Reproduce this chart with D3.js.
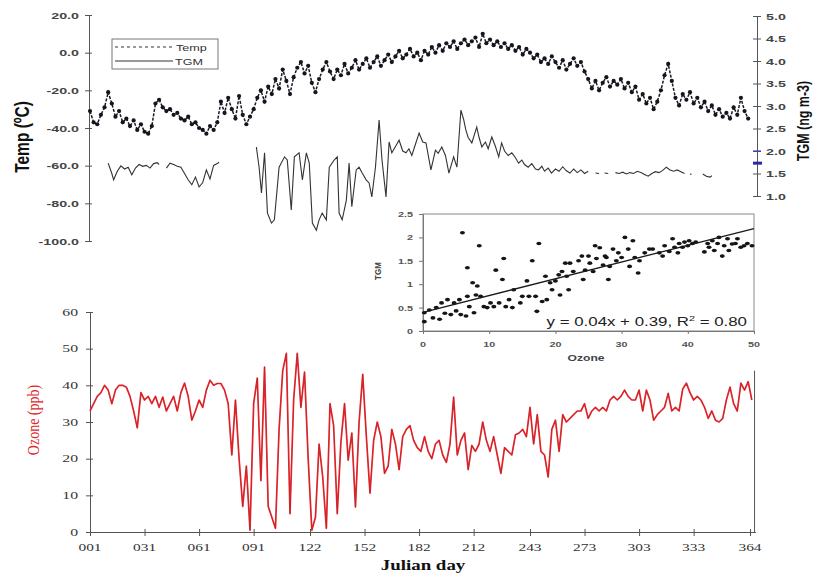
<!DOCTYPE html>
<html><head><meta charset="utf-8">
<script src="https://cdn.jsdelivr.net/npm/d3@7"></script>
<style>body{margin:0;background:#fff}svg{display:block}</style>
</head><body><svg id="c" width="815" height="574"></svg>
<script>
// ---------------- DATA ----------------
const tempDays = d3.range(1, 364, 2);
const tempValues = [
-31,-37,-38,-33,-29,
-21,-27,-34,-31,-37,
-35,-39,-36,-41,-38,-42,-43,-39,
-27,-25,-29,-31,-30,-33,-32,-35,-36,-34,
-38,-37,-40,-41,-43,-39,-41,-37,
-26,-32,-24,-30,-35,-23,-33,-38,-34,
-30,-24,-20,-26,-18,-22,-14,-19,-9,-15,
-22,-13,-8,-5,-11,-7,-16,-21,-14,-9,
-5,-10,-14,-9,-12,-6,-11,-8,-4,-9,
-6,-3,-8,-5,-2,-7,-4,-1,-5,-2,
1,-3,-1,2,-2,0,-4,1,-1,3,
0,4,1,5,3,6,2,5,7,4,
6,8,3,10,5,7,4,6,3,5,
2,4,1,3,-1,2,0,-3,-1,-5,
-3,-6,-2,-5,-8,-4,-9,-6,-3,-7,
-5,-10,-14,-19,-15,-20,-16,-13,-18,-15,
-17,-14,-19,-16,-21,-18,-25,-22,-27,-24,
-30,-26,-20,-12,-6,-15,-24,-28,-22,-25,
-21,-27,-24,-29,-26,-31,-28,-33,-30,-34,
-32,-35,-29,-33,-24,-31,-35];

// TGM: [julian day, ng m-3], null = no data
const tgmPoints = [
[11,1.73],[13,1.5],[14,1.36],[16,1.55],[18,1.67],[20,1.6],[22,1.64],[24,1.47],[26,1.62],[28,1.7],[30,1.66],[32,1.68],[34,1.62],[36,1.72],[38,1.74],[39,1.7],[41,null],
[43,1.62],[45,1.73],[47,1.7],[49,1.66],[51,1.64],[53,1.5],[55,1.36],[57,1.25],[59,1.42],[61,1.2],[63,1.3],[65,1.58],[67,1.38],[69,1.68],[71,1.72],[72,1.75],[80,null],
[92.5,2.09],[94,1.64],[95.3,1.07],[97,1.96],[98.6,0.62],[100.8,0.4],[102.4,0.47],[105,1.64],[108,1.87],[109.5,1.8],[111.7,0.69],[113.4,1.87],[116,1.96],[117.8,1.36],[120,1.96],[121.6,1.73],[123.3,0.4],[125.5,0.24],[127,0.47],[128.7,0.62],[131,0.47],[132.6,1.64],[135.3,1.8],[137,1.87],[138,0.62],[139.7,0.47],[142,0.91],[143.5,1.73],[145,0.76],[147.4,1.58],[149,1.64],[150.7,1.51],[152.9,1.36],[154.5,1.29],[156,0.98],[158,1.64],[160,2.69],[161.6,1.8],[163.8,0.98],[165.5,2.2],[167,1.96],[169,2.1],[171,2.24],[173,2.0],[174.8,1.96],[176.4,2.05],[178,1.9],[180,2.15],[182,2.4],[184,2.2],[185.8,2.18],[188.5,1.58],[191,2.02],[192.5,1.95],[194.5,2.09],[196.5,1.9],[198.4,1.51],[201,1.87],[202.8,1.64],[205,2.91],[206.5,2.7],[207.7,2.47],[209,2.3],[211,2.18],[213.7,2.53],[215,2.3],[216.5,2.09],[218.5,2.2],[220,2.05],[222,2.31],[224,2.1],[225.8,1.87],[227.4,2.18],[229,2.0],[231,1.9],[233,1.96],[235,1.85],[236.7,1.73],[238.5,1.8],[240,1.7],[242,1.64],[244,1.72],[246,1.6],[247.7,1.58],[249.5,1.66],[251,1.55],[253,1.62],[254.8,1.51],[257,1.6],[259,1.55],[261,1.65],[263,1.56],[265,1.51],[267,1.6],[269,1.52],[271,1.58],[273,1.5],[275,1.55],[277,null],
[279,1.51],[281,1.5],[282,null],[284,1.51],[286,1.5],[287,null],
[290,1.52],[292,1.5],[294,1.53],[296,1.49],[298,1.52],[300,1.5],[302,1.55],[304,1.52],[306,1.48],[308,1.44],[310,1.5],[312,1.54],[314,1.52],[316,1.57],[318,1.64],[320,1.58],[322,1.55],[324,1.58],[326,1.54],[328,1.5],[329,null],
[331,1.49],[331.8,1.48],[333,null],
[338,1.49],[340,1.44],[342,1.42],[343,1.45]];

const ozoneDays = d3.range(1, 366, 2);
const ozoneValues = [
33,35,37,38,40,38.7,35,38.7,40,40,
39.5,37,33,28.4,38,36,37,35,37,34,
36.8,33,35,37,33,38,40.6,37,30.5,33,
36,34,38.7,41.4,40,40.5,40.5,38.7,35,21,
36,20,7,18,0.5,35,42,14,45,7,
4,1,28,44,48.7,5,36,48.7,34,43.6,
20,0.5,4,24,15,1,35,29,5,24.5,
35,19.6,27,6.8,30,43,26,10.6,25,30,
26,16,18,28,24,17,26,28,29,25,
23,22,26,22,20,24,25,21,19,24,
36.8,21,25,27,17,23.6,22,24,30,25,
22,26,21,16,23,22,21,26.5,27,28,
26,34,24,32,22,21,15,28,30.5,22,
32,30,31,32,33,33,35,31,33,34,
33,34,33,36,37,36,37,38.7,37,36,
36,38.7,33,38.7,36,30.5,32,33,34,37.8,
33,34,33,39,40.6,38,36,37,36,34,
31,33,30.5,30,31,36,39.5,35,33,40.6,
38.7,41,36];

const scatterOzone = [0.2,0.2,0.95,1.5,2,2.5,2.8,3.3,3.7,4.2,4.7,5,5.5,5.7,5.96,6.5,6.7,6.7,7,7.5,7.7,8,8.2,8.5,8.7,9.2,9.7,10.2,10.7,11,11.5,12,12.2,12.5,13,13.5,13.7,14.7,15,15.7,16,16.5,17,17.2,17.5,18,18.5,18.7,19.2,19.5,20,20.5,20.7,21,21.5,21.7,22,22.2,22.7,23.5,24,24.2,24.5,25,25.2,25.7,26,26.2,26.7,27.2,27.5,27.7,28,28.2,28.7,29.2,29.5,30,30.5,31,31.2,31.7,32,32.5,32.7,33.5,34.2,34.7,35.7,36.2,36.5,37.2,37.7,38,38.5,38.7,39.2,39.5,40,40.2,40.7,41.2,42.5,43,43.2,43.7,44,44.5,44.7,45.2,45.5,46,46.2,46.7,47.2,47.5,48,48.5,49,49.7];
const scatterTGM = [0.2,0.39,0.45,0.28,0.5,0.25,0.6,0.38,0.67,0.35,0.6,0.43,0.67,0.35,2.1,0.32,0.74,1.35,0.52,1.03,0.39,0.77,0.96,1.82,0.74,0.52,0.5,0.6,0.52,1.3,0.6,1.1,1.55,0.52,0.67,0.5,0.88,0.6,0.74,1.07,0.74,1.5,0.74,0.42,1.87,0.63,1.17,0.67,1.03,0.88,1.07,1.2,0.77,1.27,1.45,1.17,0.88,1.45,1.27,1.5,1.6,1.1,1.3,1.6,1.45,1.27,1.82,1.55,1.78,1.41,1.6,1.57,1.1,1.38,1.75,1.5,1.67,1.57,2.0,1.75,1.38,1.93,1.57,1.24,1.5,1.67,1.75,1.75,1.67,1.6,1.82,1.7,1.97,1.79,1.67,1.87,1.79,1.9,1.82,1.93,1.87,1.9,1.69,1.87,1.79,1.93,1.72,1.87,2.0,1.6,1.82,1.97,1.72,1.86,1.87,1.97,1.79,1.82,1.87,1.82];
const fitOzone = [0, 50];
const fitTGM = [0.40, 2.19];
const equationText = "y = 0.04x + 0.39,  R";
const equationTail = " = 0.80";

const dayTicks = [1,31,61,91,122,152,182,212,243,273,303,333,364];
const dayTickLabels = ["001","031","061","091","122","152","182","212","243","273","303","333","364"];
const tempTicks = [20,0,-20,-40,-60,-80,-100];
const tgmTicks = [5.0,4.5,4.0,3.5,3.0,2.5,2.0,1.5,1.0];
const ozoneTicks = [0,10,20,30,40,50,60];
const insetXTicks = [0,10,20,30,40,50];
const insetYTicks = [0,0.5,1,1.5,2,2.5];
const markerTGM = 1.73; // blue marker on right axis

// ---------------- SCALES ----------------
const svg = d3.select("#c");
const x = d3.scaleLinear().domain([1, 364]).range([90, 750]);
const yTemp = d3.scaleLinear().domain([-100, 20]).range([241, 15]);
const yTGM = d3.scaleLinear().domain([0, 5]).range([241, 16]);
const yOz = d3.scaleLinear().domain([0, 60]).range([532, 312]);
const ix = d3.scaleLinear().domain([0, 50]).range([423, 754]);
const iy = d3.scaleLinear().domain([0, 2.5]).range([331, 214]);

const SANS = "'Liberation Sans', Arial, sans-serif";
const SERIF = "'Liberation Serif', 'Times New Roman', serif";

function txt(parent, px, py, s, o) {
  return parent.append("text")
    .attr("transform", `translate(${px},${py}) scale(${o.sx || 1},1)` + (o.rot ? ` rotate(${o.rot})` : ""))
    .attr("text-anchor", o.anchor || "start")
    .attr("font-family", o.family || SANS)
    .attr("font-size", o.size || 10)
    .attr("font-weight", o.weight || "normal")
    .attr("fill", o.fill || "#222")
    .text(s);
}
function styleAxis(g, col) {
  g.selectAll("path,line").attr("stroke", col || "#555").attr("stroke-width", 1);
  g.selectAll("text").remove();
}

// ---------------- TOP PANEL ----------------
const topG = svg.append("g");
const lAx = topG.append("g").attr("transform", `translate(${x(1) - 1},0)`)
  .call(d3.axisLeft(yTemp).tickValues(tempTicks).tickSizeInner(4).tickSizeOuter(0));
styleAxis(lAx);
const lAx2 = topG.append("g").attr("transform", `translate(${x(1) - 1},0)`)
  .call(d3.axisRight(yTemp).tickValues(tempTicks).tickSizeInner(3).tickSizeOuter(0));
styleAxis(lAx2); lAx2.select("path").remove();
tempTicks.forEach(v => txt(topG, 79, yTemp(v) + 3.5, v.toFixed(1), {anchor: "end", size: 9.5, sx: 1.5, weight: "bold", fill: "#444"}));

const yTGMax = yTGM.copy().domain([1, 5]).range([yTGM(1), yTGM(5)]);
const rX = 757;
const rAx = topG.append("g").attr("transform", `translate(${rX},0)`)
  .call(d3.axisRight(yTGMax).tickValues(tgmTicks).tickSizeInner(4).tickSizeOuter(0));
styleAxis(rAx);
const rAx2 = topG.append("g").attr("transform", `translate(${rX},0)`)
  .call(d3.axisLeft(yTGMax).tickValues(tgmTicks).tickSizeInner(4).tickSizeOuter(0));
styleAxis(rAx2); rAx2.select("path").remove();
tgmTicks.forEach(v => txt(topG, 766, yTGM(v) + 3.5, v.toFixed(1), {size: 9.5, sx: 1.5, weight: "bold", fill: "#444"}));
topG.append("line").attr("x1", rX - 4).attr("x2", rX + 4).attr("y1", yTGM(2)).attr("y2", yTGM(2)).attr("stroke", "#3344cc").attr("stroke-width", 1.2);
topG.append("line").attr("x1", rX - 4).attr("x2", rX + 5).attr("y1", yTGM(markerTGM)).attr("y2", yTGM(markerTGM)).attr("stroke", "#2a2aa8").attr("stroke-width", 3);

txt(topG, 29, 137, "Temp (ºC)", {anchor: "middle", size: 15.5, weight: "bold", sx: 1.3, rot: -90, fill: "#111"});
txt(topG, 809, 121, "TGM (ng m-3)", {anchor: "middle", size: 12.5, weight: "bold", sx: 1.25, rot: -90, fill: "#111"});

const tgmLine = d3.line().defined(d => d[1] != null).x(d => x(d[0])).y(d => yTGM(d[1]));
topG.append("path").datum(tgmPoints).attr("d", tgmLine)
  .attr("fill", "none").attr("stroke", "#333").attr("stroke-width", 1.1);

const tempData = tempDays.map((d, i) => [d, tempValues[i]]).filter(d => d[1] != null);
topG.append("path").datum(tempData)
  .attr("d", d3.line().x(d => x(d[0])).y(d => yTemp(d[1])))
  .attr("fill", "none").attr("stroke", "#1a1a22").attr("stroke-width", 1.5).attr("stroke-dasharray", "3,1.5");
topG.selectAll("circle.t").data(tempData).join("circle").attr("class", "t")
  .attr("cx", d => x(d[0])).attr("cy", d => yTemp(d[1])).attr("r", 2.1).attr("fill", "#15151f");

const lg = topG.append("g");
lg.append("rect").attr("x", 112).attr("y", 39).attr("width", 106).attr("height", 30)
  .attr("fill", "#fff").attr("stroke", "#777").attr("stroke-width", 1);
lg.append("line").attr("x1", 115).attr("x2", 175).attr("y1", 47).attr("y2", 47)
  .attr("stroke", "#333").attr("stroke-width", 1).attr("stroke-dasharray", "3,3");
lg.append("line").attr("x1", 115).attr("x2", 173).attr("y1", 61).attr("y2", 61)
  .attr("stroke", "#333").attr("stroke-width", 1);
txt(lg, 176, 50.5, "Temp", {size: 9, sx: 1.4, fill: "#333"});
txt(lg, 175, 64.5, "TGM", {size: 9, sx: 1.4, fill: "#333"});

// ---------------- BOTTOM PANEL ----------------
const bot = svg.append("g");
const xAxScale = x.copy().domain([1, 367]).range([x(1), x(367)]);
const bx = bot.append("g").attr("transform", `translate(0,${yOz(0)})`)
  .call(d3.axisBottom(xAxScale).tickValues(dayTicks).tickSizeInner(4).tickSizeOuter(0));
styleAxis(bx);
const bx2 = bot.append("g").attr("transform", `translate(0,${yOz(0)})`)
  .call(d3.axisTop(xAxScale).tickValues(dayTicks).tickSizeInner(3).tickSizeOuter(0));
styleAxis(bx2); bx2.select("path").remove();
dayTicks.forEach((d, i) => txt(bot, x(d), 551, dayTickLabels[i], {anchor: "middle", family: SERIF, size: 11, sx: 1.4, fill: "#333"}));

const by = bot.append("g").attr("transform", `translate(${x(1)},0)`)
  .call(d3.axisLeft(yOz).tickValues(ozoneTicks).tickSizeInner(4).tickSizeOuter(0));
styleAxis(by);
const by2 = bot.append("g").attr("transform", `translate(${x(1)},0)`)
  .call(d3.axisRight(yOz).tickValues(ozoneTicks).tickSizeInner(3).tickSizeOuter(0));
styleAxis(by2); by2.select("path").remove();
ozoneTicks.forEach(v => txt(bot, 78, yOz(v) + 3.5, String(v), {anchor: "end", family: SERIF, size: 10.5, sx: 1.5, fill: "#333"}));

txt(bot, 39, 420, "Ozone (ppb)", {anchor: "middle", family: SERIF, size: 14, sx: 1.25, rot: -90, fill: "#e0262c"});
txt(bot, 423, 570, "Julian day", {anchor: "middle", family: SERIF, size: 14, weight: "bold", sx: 1.35, fill: "#111"});

const ozData = ozoneDays.map((d, i) => [d, ozoneValues[i]]).filter(d => d[1] != null);
bot.append("path").datum(ozData)
  .attr("d", d3.line().x(d => x(d[0])).y(d => yOz(d[1])))
  .attr("fill", "none").attr("stroke", "#ec2b30").attr("stroke-width", 1.7).attr("stroke-linejoin", "round");
bot.append("path").datum(ozData)
  .attr("d", d3.line().x(d => x(d[0])).y(d => yOz(d[1])))
  .attr("fill", "none").attr("stroke", "#8e1b1f").attr("stroke-width", 0.45).attr("opacity", 0.7);
bot.append("line").attr("x1", x(366.5)).attr("x2", x(366.5)).attr("y1", yOz(44)).attr("y2", yOz(0))
  .attr("stroke", "#555").attr("stroke-width", 1);

// ---------------- INSET ----------------
const ins = svg.append("g");
ins.append("rect").attr("x", ix(0)).attr("y", iy(2.5)).attr("width", ix(50) - ix(0)).attr("height", iy(0) - iy(2.5))
  .attr("fill", "#fff").attr("stroke", "#888").attr("stroke-width", 1);
const iax = ins.append("g").attr("transform", `translate(0,${iy(0)})`)
  .call(d3.axisBottom(ix).tickValues(insetXTicks).tickSizeInner(3).tickSizeOuter(0));
styleAxis(iax, "#777");
const iay = ins.append("g").attr("transform", `translate(${ix(0)},0)`)
  .call(d3.axisLeft(iy).tickValues(insetYTicks).tickSizeInner(4).tickSizeOuter(0));
styleAxis(iay, "#777");
insetYTicks.forEach(v => txt(ins, 413, iy(v) + 3, String(v), {anchor: "end", size: 8, weight: "bold", sx: 1.35, fill: "#555"}));
insetXTicks.forEach(v => txt(ins, ix(v), 347, String(v), {anchor: "middle", size: 8, weight: "bold", sx: 1.35, fill: "#555"}));
txt(ins, 586, 361, "Ozone", {anchor: "middle", size: 9, weight: "bold", sx: 1.35, fill: "#444"});
txt(ins, 381, 271, "TGM", {anchor: "middle", size: 8, weight: "bold", sx: 1.2, rot: -90, fill: "#444"});

ins.selectAll("ellipse").data(scatterOzone.map((o, i) => [o, scatterTGM[i]])).join("ellipse")
  .attr("cx", d => ix(d[0])).attr("cy", d => iy(d[1])).attr("rx", 2.5).attr("ry", 1.8).attr("fill", "#151515");
ins.append("line").attr("x1", ix(fitOzone[0])).attr("y1", iy(fitTGM[0]))
  .attr("x2", ix(fitOzone[1])).attr("y2", iy(fitTGM[1]))
  .attr("stroke", "#1a1a1a").attr("stroke-width", 1.3);
const eq = txt(ins, 747, 326, equationText, {anchor: "end", size: 12.5, sx: 1.35, fill: "#222"});
eq.append("tspan").attr("font-size", 8).attr("dy", -5).text("2");
eq.append("tspan").attr("dy", 5).text(equationTail);
</script></body></html>
